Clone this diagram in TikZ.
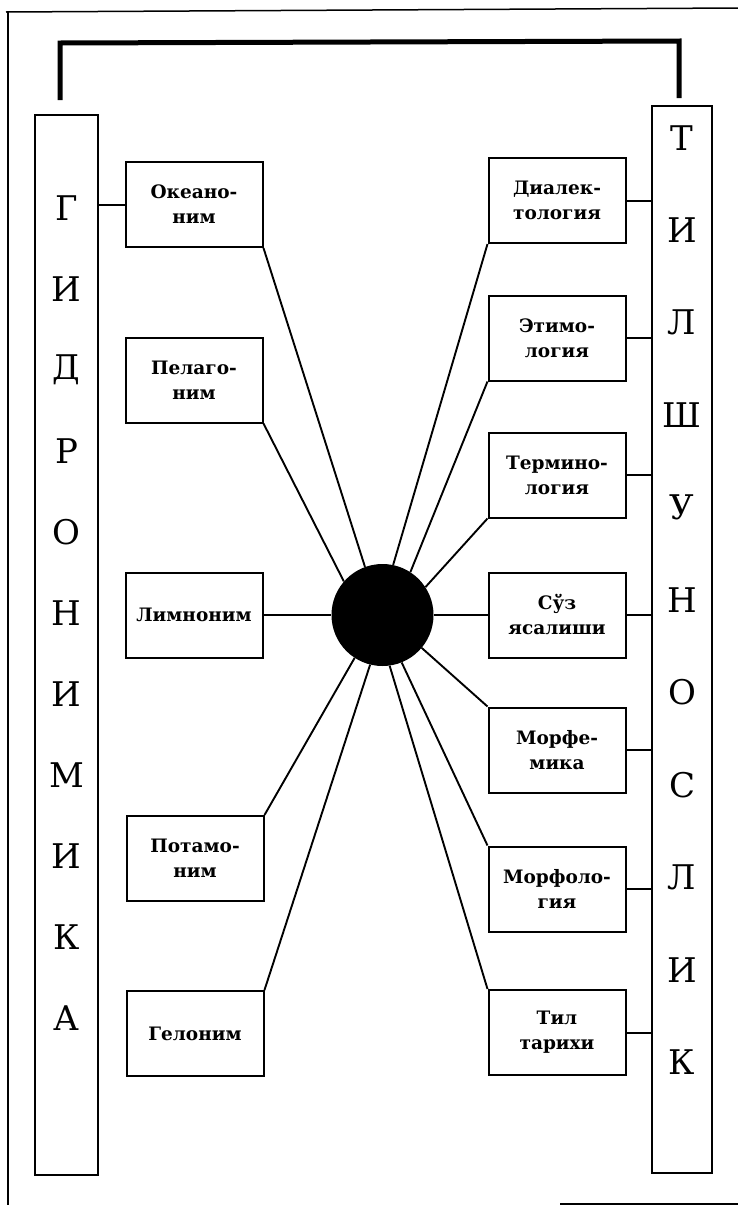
\documentclass[tikz,border=0pt]{standalone}
\usepackage{fontspec}
\setmainfont{DejaVu Serif}
\begin{document}
\begin{tikzpicture}[x=1pt,y=-1pt,
  box/.style={draw, line width=2pt, minimum width=137pt, minimum height=85pt, align=center, inner sep=0pt, font=\bfseries\fontsize{18.5}{25}\selectfont},
  colbox/.style={draw, line width=2pt, inner sep=0pt},
  letter/.style={font=\fontsize{34}{34}\selectfont, inner sep=0pt},
  link/.style={line width=1.9pt},
  tie/.style={line width=2pt},
  frame/.style={line width=1.5pt},
  bracket/.style={line width=5pt, line join=miter}]
\useasboundingbox (0,0) rectangle (738,1205);
% page frame
\coordinate (f1) at (6,12);
\coordinate (f2) at (738,8);
\coordinate (f3) at (8,1205);
\coordinate (f4) at (560,1204);
\coordinate (f5) at (738,1204);
\draw[frame] (f1) -- (f2);
\draw[frame] (8,12) -- (f3);
\draw[frame] (f4) -- (f5);
% columns
\node[colbox, minimum width=63pt, minimum height=1060pt] (L) at (66.5,645) {};
\node[colbox, minimum width=60pt, minimum height=1067pt] (R) at (682,639.5) {};
\foreach \ch [count=\i] in {Г,И,Д,Р,О,Н,И,М,И,К,А}
  \node[letter] (g\i) at (66.5,{208+81*(\i-1)}) {\ch};
\foreach \ch [count=\i] in {Т,И,Л,Ш,У,Н,О,С,Л,И,К}
  \node[letter] (t\i) at (682,{138+92.4*(\i-1)}) {\ch};
% bracket
\coordinate (bl) at (60,100);
\coordinate (br) at (679,98);
\draw[bracket] (bl) -- (60,43) -- (679,41) -- (br);
% centre
\node[circle, fill=black, minimum size=102pt, inner sep=0pt] (c) at (382.5,615) {};
% left boxes
\node[box] (oke) at (194,204.5) {Океано-\\ним};
\node[box] (pel) at (194,380) {Пелаго-\\ним};
\node[box] (lim) at (194,615) {Лимноним};
\node[box] (pot) at (195,858.5) {Потамо-\\ним};
\node[box] (gel) at (195,1033.5) {Гелоним};
% right boxes
\node[box] (dia) at (557,200.5) {Диалек-\\тология};
\node[box] (eti) at (557,338) {Этимо-\\логия};
\node[box] (ter) at (557,475) {Термино-\\логия};
\node[box] (suz) at (557,615) {Сўз\\ясалиши};
\node[box] (mfm) at (557,750) {Морфе-\\мика};
\node[box] (mfl) at (557,889) {Морфоло-\\гия};
\node[box] (til) at (557,1032.5) {Тил\\тарихи};
% ties to columns
\draw[tie] (oke.west) -- (oke.west -| L.east);
\foreach \b in {dia,eti,ter,suz,mfm,mfl,til}
  \draw[tie] (\b.east) -- (\b.east -| R.west);
% rays
\draw[link] (oke.south east) -- (c.110);
\draw[link] (pel.south east) -- (c.139);
\draw[link] (lim) -- (c);
\draw[link] (pot.north east) -- (c.-123);
\draw[link] (gel.north east) -- (c.-104);
\draw[link] (dia.south west) -- (c.78);
\draw[link] (eti.south west) -- (c.57);
\draw[link] (ter.south west) -- (c.33);
\draw[link] (suz) -- (c);
\draw[link] (mfm.north west) -- (c.-40);
\draw[link] (mfl.north west) -- (c.-68);
\draw[link] (til.north west) -- (c.-82);
\end{tikzpicture}
\end{document}
